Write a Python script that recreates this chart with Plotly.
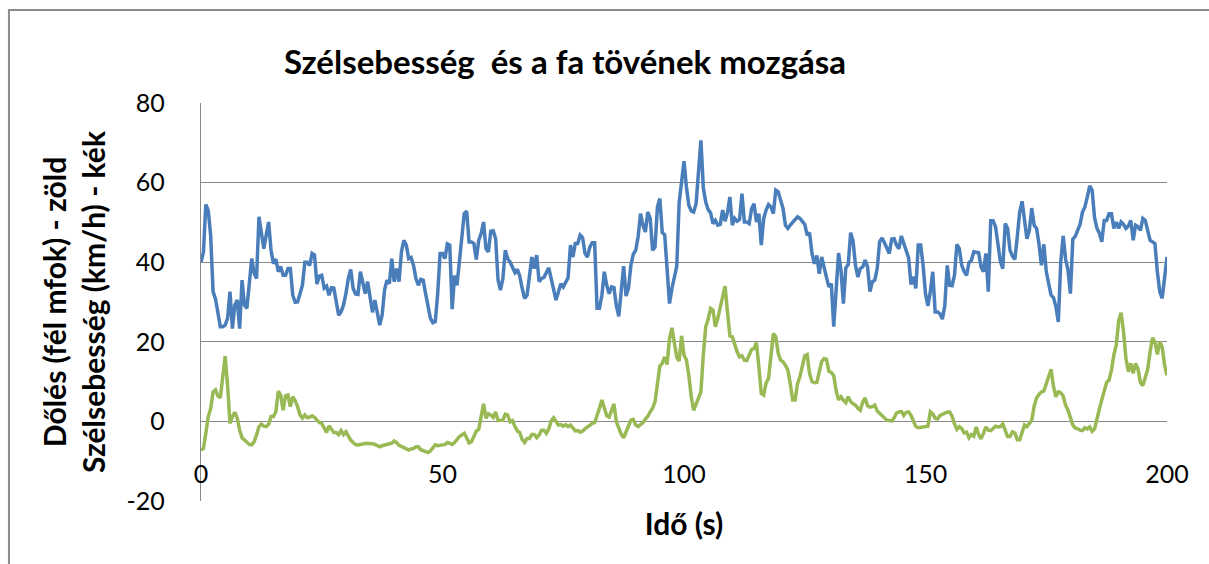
import plotly.graph_objects as go

# Sample times: one reading every half second over 200 s
time_s = [k / 2 for k in range(401)]

# Wind speed (km/h), blue trace
wind_kmh = [
    40, 42.5, 54.5, 53, 46.7, 32.6, 30.8, 26.7, 23.8, 23.8,
    24.2, 25.9, 32.6, 23.3, 29.2, 30.5, 23.3, 35.5, 29.2, 28.4,
    35.1, 40.9, 37.2, 35.9, 51.4, 47.6, 43.4, 46.8, 50.1, 43,
    39.6, 40.8, 37.6, 38.9, 36.7, 36.7, 38.4, 38.4, 31.7, 29.9,
    30, 32.1, 34.2, 40, 40, 39.2, 42.2, 41.8, 34.5, 36.5,
    36.7, 33.5, 34, 31.7, 33.6, 33.5, 29.6, 26.7, 27.5, 29.2,
    32.1, 35.9, 38.2, 33.4, 32, 31.9, 37.6, 34.6, 32.1, 35.1,
    31.3, 27.4, 30.5, 27.5, 24.2, 26.7, 33, 35.5, 34.6, 40.9,
    35.1, 38.4, 35.1, 42.6, 45.5, 44.3, 40.9, 41.2, 39.2, 35.9,
    34.2, 35.7, 35.5, 32.1, 29.2, 25.9, 24.8, 25.1, 32, 42.2,
    42.2, 40.9, 44.6, 44.3, 28.2, 36.7, 34.2, 40.9, 47.4, 52.2,
    52.8, 45.1, 45.1, 44.7, 40.7, 45.5, 47.2, 50.1, 43.4, 42.6,
    47.8, 47.9, 45.9, 35.5, 33, 35.9, 43, 40.9, 40, 38.4,
    37.4, 38.2, 36.5, 33.4, 30.9, 31.7, 37.2, 41.3, 38.4, 41.8,
    35.1, 35.9, 36.2, 37.6, 38.6, 35.9, 32.6, 30.5, 32.5, 34.6,
    33.8, 35.1, 36.1, 44.3, 41.3, 44.7, 44.7, 46.8, 46.2, 42.2,
    41.3, 43.8, 44.9, 44.9, 28.4, 28.4, 31.7, 37.6, 34.2, 32.1,
    33.8, 33.6, 29, 26.4, 33.4, 39, 31.5, 33.4, 39.2, 42,
    43, 46.4, 52.2, 49.3, 47.6, 52.6, 51, 43, 43.8, 53.9,
    56, 47.4, 46.9, 39.2, 29.6, 33.4, 36, 39, 55, 60.6,
    65.4, 58.9, 54.3, 52.9, 52.6, 54.7, 63.1, 70.6, 58.7, 55.1,
    53.2, 52.4, 49.7, 50.5, 49.3, 49.5, 53.1, 50.3, 52.5, 56.4,
    49.3, 51, 50.3, 50.7, 57.2, 50.1, 50.1, 49.7, 53.5, 54.7,
    50.1, 52.2, 44.3, 51, 53.1, 54.5, 53.9, 52.2, 58.1, 57.7,
    55.6, 53.5, 49.3, 48.5, 49.3, 50, 50.5, 51.4, 51, 50.1,
    49.5, 46.8, 47.4, 42.2, 39.6, 41.7, 37.1, 41.3, 38.2, 36.2,
    33.8, 34.6, 23.8, 34.2, 42.3, 38, 29.6, 38.6, 39.4, 47.4,
    45.3, 39.2, 36.3, 38.4, 38.8, 40.5, 38.8, 32.6, 35.1, 35.5,
    38.4, 45.1, 46.1, 44.9, 43.3, 42.2, 45.8, 45.9, 44.3, 43.4,
    46.6, 44.7, 43, 41.1, 34.4, 36.4, 33.4, 44.3, 44.3, 39.2,
    32.1, 29, 32.6, 37.6, 27.5, 27.5, 27, 25.7, 29.2, 39.2,
    34.2, 34.1, 36.7, 44.5, 43.4, 39.2, 37.7, 36.7, 39.9, 40.5,
    42.6, 42.6, 42.4, 38.8, 37.6, 42.2, 32.6, 50.4, 50.4, 48.9,
    43.8, 40.2, 38.4, 49.7, 48.5, 43, 41.5, 40.7, 46.4, 52.6,
    55.3, 51, 45.9, 48, 53.6, 49.3, 48.5, 44.5, 39.2, 44.5,
    37.7, 34.6, 31.7, 31.1, 28.8, 25, 40, 46.6, 40.8, 38,
    32.1, 45.8, 46.5, 48, 49.5, 52.6, 53.9, 56.4, 59.2, 58.1,
    51.2, 48.5, 47.3, 45.1, 50.5, 50.5, 52.2, 52.2, 48.5, 50.1,
    48.5, 50.1, 49.5, 48.5, 49.1, 50.5, 45.5, 49.3, 48.9, 48,
    51, 50.5, 47.6, 45.5, 45.1, 44.7, 37.6, 32.6, 30.9, 35.5,
    41.3,
]

# Tilt of the trunk base (half milli-degrees), green trace
tilt_half_mdeg = [
    -7.2, -6.8, -3, 1.2, 3.2, 7.4, 7.9, 6.4, 5.9, 11.6,
    16.4, 9.1, -0.5, 1.2, 2.3, 0.8, -2.2, -4.1, -4.6, -5.3,
    -5.8, -5.9, -5.1, -3.4, -1.3, -0.7, -1.2, -1.3, -0.7, 1.2,
    1.2, 2.4, 7.6, 6.6, 2.8, 6.4, 6.6, 3.7, 6.2, 5.2,
    3.7, 1.6, 0.8, 1.6, 0.9, 1.1, 1.4, 1, 0.3, -0.3,
    -0.5, -1.6, -2.8, -1.1, -1.8, -2.8, -2.8, -3.3, -2.3, -3.3,
    -2.6, -3.8, -4.7, -5.3, -5.8, -5.9, -5.9, -5.7, -5.5, -5.5,
    -5.5, -5.6, -5.8, -6.1, -6.4, -6.1, -6, -5.9, -5.7, -5.5,
    -4.9, -5.3, -6, -6.4, -6.6, -6.9, -7.2, -6.9, -6.8, -6.4,
    -6.4, -7.1, -7.3, -7.4, -7.8, -7.4, -6.6, -5.9, -6.1, -6.1,
    -5.9, -5.8, -5.3, -5.5, -5.8, -5.3, -4.5, -3.8, -3.4, -3,
    -4.1, -5.4, -5.1, -3.8, -2.4, -2, 1.2, 4.4, 0.8, 1.9,
    1.6, 1, 2.4, 0.2, 0.3, 0.3, 1.8, 1.6, -0.1, 0.2,
    -1.3, -2.4, -2.8, -4.6, -5.3, -4.3, -4.3, -3.3, -3.3, -4.1,
    -3.4, -2.2, -2.2, -3, -1.9, 0.1, 0.9, -0.1, -0.9, -0.8,
    -1.2, -0.8, -1.3, -0.9, -1.8, -2.4, -2.3, -2.7, -2.4, -1.8,
    -1.4, -1, -0.5, -0.3, 1.3, 3.3, 5.4, 3.3, 1.4, 1.1,
    2.8, 4.4, -0.1, -1.7, -3.2, -4.1, -2.8, -1.3, 0.3, 0.5,
    -0.9, -1.3, -0.9, -0.3, 0.6, 1.3, 2.4, 3.3, 4.9, 10.1,
    13.9, 14.6, 16.2, 14.3, 20.8, 23.5, 19.8, 16.1, 15.2, 21.5,
    16.7, 15.4, 11.6, 6.2, 2.8, 4.3, 5.4, 7.4, 16.7, 23.8,
    25.7, 28.4, 28, 23.8, 25.9, 28.5, 30.5, 34, 27.5, 21.5,
    21.3, 19.3, 17.5, 16.2, 16.5, 15.4, 15.3, 16.7, 18.1, 18.3,
    19.8, 13.7, 7, 6.6, 9.7, 10.8, 17.5, 22.1, 21.3, 17.1,
    15.4, 15, 14.1, 12.9, 9.5, 5.4, 5.4, 9.5, 11.2, 14.1,
    16.5, 16.8, 12, 10, 9.7, 9.8, 12.6, 15, 15.8, 15.6,
    12.6, 12.3, 11.5, 7.7, 5.4, 6.2, 5.3, 4.7, 6.2, 5,
    4.4, 4.1, 3.3, 2.8, 4.8, 5.9, 3.9, 3.6, 3.7, 4.1,
    2.6, 2, 1.2, 0.8, 0.3, 0.2, 0.1, 0.9, 2.1, 2.4,
    2.5, 1.5, 2.3, 2.4, 1.5, 0.1, -1.3, -1.6, -1.5, -1.4,
    -1.4, -1.2, 2.4, 1.9, 0.8, 0.6, 1.5, 1.8, 2.1, 2.3,
    2.4, 1.3, -0.6, -2, -1.3, -1.8, -2.9, -2.7, -4.1, -3.3,
    -3.7, -1.4, -3.3, -4.4, -3, -1.4, -2.2, -2.3, -1.8, -1.2,
    -1.4, -1.3, -0.6, -2.1, -3.8, -3.8, -2.6, -2.9, -4.6, -4.6,
    -2.6, -0.9, -1.3, -0.6, 0.3, 3.9, 5.9, 6.8, 7.4, 7.6,
    9.4, 10.8, 13.1, 8.7, 6.2, 7.4, 7.2, 6.4, 4.1, 2.8,
    1.1, -0.9, -1.7, -1.8, -2.2, -2.3, -1.6, -1.9, -1.4, -2.5,
    -1.9, 1.1, 3.1, 5.4, 7.4, 9.8, 10.4, 12.9, 16.7, 19.2,
    25.3, 27.3, 22.5, 15.8, 12.5, 14.6, 12.1, 14.6, 13.1, 9.8,
    9, 11.2, 13.1, 17.5, 21, 20, 16.8, 20, 18.7, 14.1,
    11.6,
]

x_ticks = [0, 50, 100, 150, 200]
y_ticks = [-20, 0, 20, 40, 60, 80]
y_tick_text = ["-20", "0", "20", "40", "60", "80"]

FONT = "Lato, 'Open Sans', 'DejaVu Sans', sans-serif"
GRID = "#898989"

fig = go.Figure()
fig.add_trace(go.Scatter(
    x=time_s, y=wind_kmh, mode="lines",
    line=dict(color="#4a7ebb", width=3.5),
    name="Szélsebesség (km/h)",
))
fig.add_trace(go.Scatter(
    x=time_s, y=tilt_half_mdeg, mode="lines",
    line=dict(color="#98b954", width=3.5),
    name="Dőlés (fél mfok)",
))

# Outer chart frame
fig.add_shape(
    type="rect", xref="paper", yref="paper",
    x0=-0.1988, x1=1.06, y0=-0.2, y1=1.2337,
    line=dict(color="#8c8c8c", width=2), fillcolor="rgba(0,0,0,0)",
    layer="below",
)

fig.update_layout(
    width=1209, height=564,
    margin=dict(l=201, r=42, t=103, b=63),
    paper_bgcolor="white", plot_bgcolor="white",
    showlegend=False,
    font=dict(family=FONT, color="black"),
    title=dict(
        text="Szélsebesség\u00a0 és a fa tövének mozgása",
        x=565 / 1209, xanchor="center", xref="container",
        y=1 - 62 / 564, yanchor="middle", yref="container",
        font=dict(size=33, weight="bold", family=FONT, color="black"),
    ),
    xaxis=dict(
        range=[0, 200], tickvals=x_ticks,
        showgrid=False, zeroline=False, showline=False, ticks="",
        anchor="free", position=0.2, ticklabelstandoff=36,
        tickfont=dict(size=25, family=FONT, color="black"),
        title=dict(text="Idő (s)", standoff=26,
                   font=dict(size=30, weight="bold", family=FONT, color="black")),
    ),
    yaxis=dict(
        range=[-20, 80], tickvals=y_ticks, ticktext=y_tick_text,
        showgrid=True, gridcolor=GRID, gridwidth=1.3,
        zeroline=False, showline=True, linecolor=GRID, linewidth=1.3,
        ticks="", ticklabelstandoff=30,
        tickfont=dict(size=25, family=FONT, color="black"),
        title=dict(text="Dőlés (fél mfok) - zöld<br>Szélsebesség (km/h) - kék",
                   standoff=12,
                   font=dict(size=30, weight="bold", family=FONT, color="black")),
    ),
)

fig.write_html("out.html")
